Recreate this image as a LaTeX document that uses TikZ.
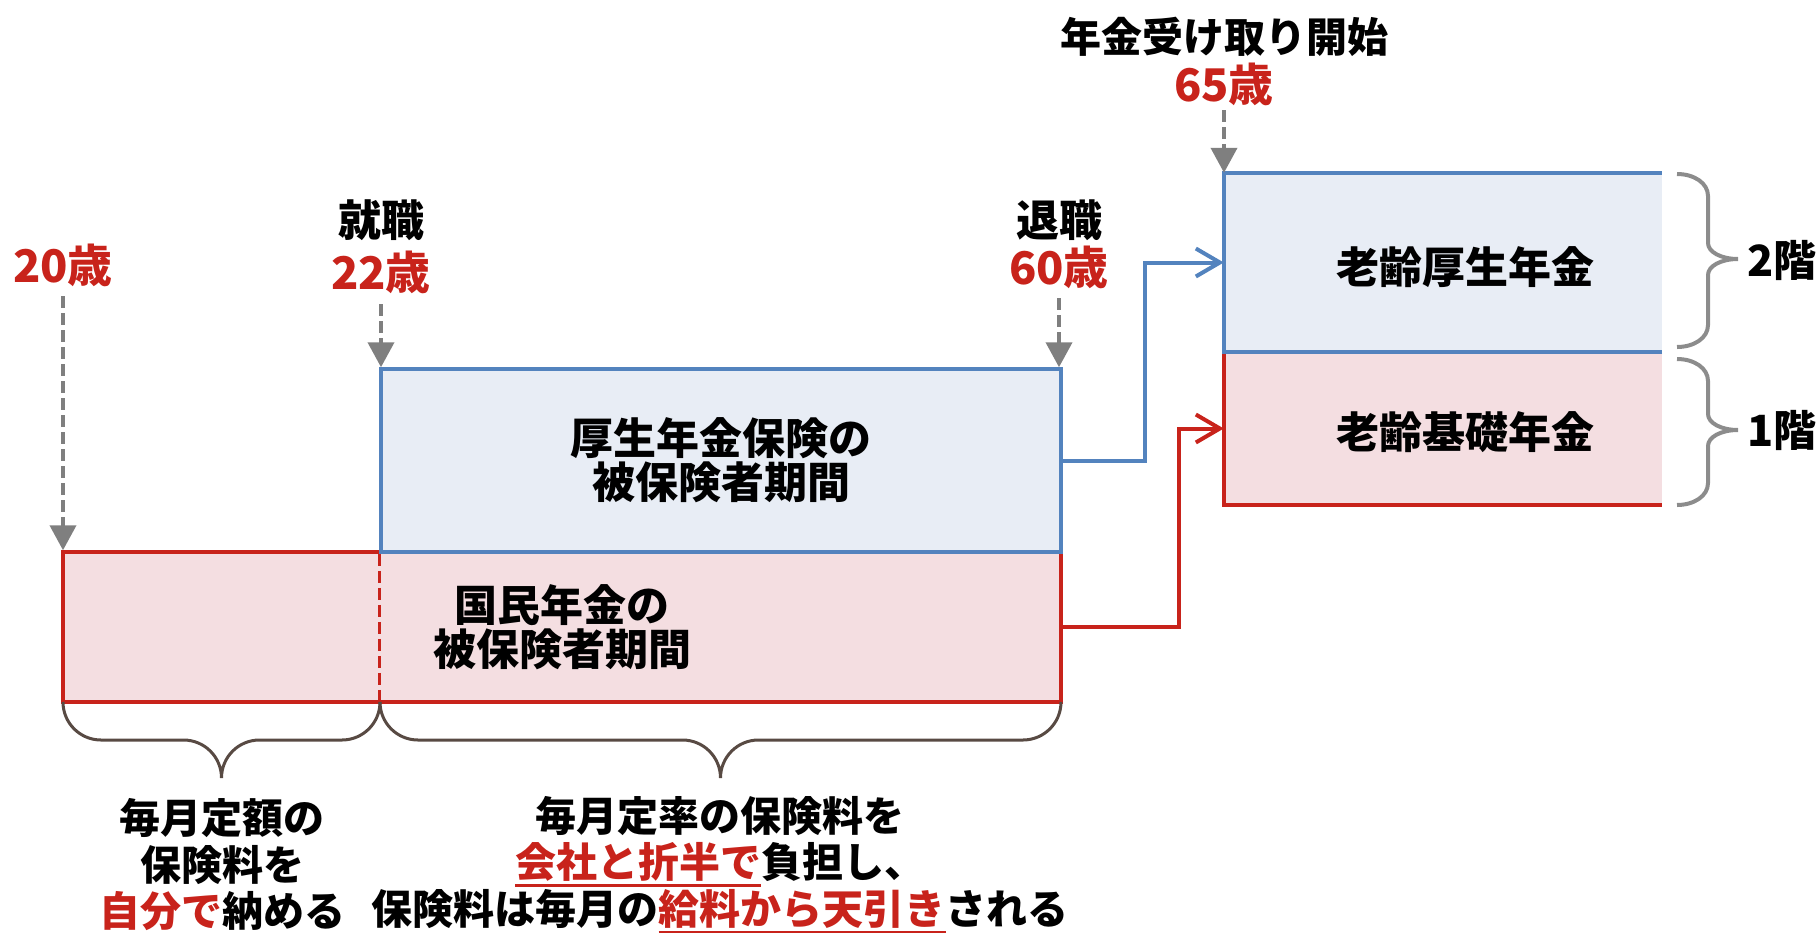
\documentclass[tikz,border=0pt]{standalone}
\usepackage{fontspec}
\setmainfont{Noto Sans CJK JP}
\usetikzlibrary{arrows.meta,calc}
\definecolor{accred}{HTML}{C8231B}
\definecolor{lineblue}{HTML}{5383BE}
\definecolor{fillblue}{HTML}{E8EDF5}
\definecolor{fillpink}{HTML}{F4DEE1}
\definecolor{arrgray}{HTML}{7F7F7F}
\definecolor{bracebrown}{HTML}{584A43}
\definecolor{bracegray}{HTML}{8C8C8C}
\newcommand\redul[1]{\setbox0\hbox{#1}\rlap{\color{accred}\rule[-9.5pt]{\wd0}{3pt}}\box0}
\begin{document}
\begin{tikzpicture}[x=1pt,y=-1pt,
  every node/.style={font=\bfseries\fontsize{43}{44}\selectfont, inner sep=0pt, align=center},
  age/.style={text=accred, font=\bfseries\fontsize{45}{50}\selectfont},
  bottomtxt/.style={font=\bfseries\fontsize{41}{46.5}\selectfont},
  agearrow/.style={draw=arrgray, line width=4pt, dash pattern=on 12pt off 5pt, -{Triangle[width=26pt,length=25pt]}},
  bluebox/.style={draw=lineblue, fill=fillblue, line width=3.5pt},
  pinkbox/.style={draw=accred, fill=fillpink, line width=3.5pt},
  bluelink/.style={draw=lineblue, line width=4pt, -{Straight Barb[length=24pt,width=28pt]}},
  redlink/.style={draw=accred, line width=4pt, -{Straight Barb[length=24pt,width=28pt]}},
  bracebot/.style={draw=bracebrown, line width=3pt},
  braceright/.style={draw=bracegray, line width=4pt}
]
\useasboundingbox (0,0) rectangle (1820,932);

% period boxes
\node[pinkbox, minimum width=998pt, minimum height=150pt] (kokumin) at (562,627) {国民年金の\\被保険者期間};
\node[bluebox, minimum width=680pt, minimum height=183pt] (kosei) at (721,460.5) {厚生年金保険の\\被保険者期間};
\draw[accred, line width=3pt, dash pattern=on 12pt off 5pt] (kosei.south west) -- (kosei.south west |- kokumin.south);

% pension boxes
\node[fill=fillpink, minimum width=438pt, minimum height=153pt] (r1) at (1443,428.5) {};
\draw[accred, line width=3.5pt] (r1.north west) -- (r1.south west) -- (r1.south east);
\node[fill=fillblue, minimum width=438pt, minimum height=179pt] (r2) at (1443,262.5) {};
\draw[lineblue, line width=3.5pt] (r2.south east) -- (r2.south west) -- (r2.north west) -- (r2.north east);
\node (t2) at (1465,267) {老齢厚生年金};
\node (t1) at (1465,432) {老齢基礎年金};

% age labels
\node[age] (n20) at (63,265) {20歳};
\node (job22) at (381,220) {就職};
\node[age] (n22) at (381,272) {22歳};
\node (ret60) at (1059,220) {退職};
\node[age] (n60) at (1059,267) {60歳};
\node[font=\bfseries\fontsize{41}{44}\selectfont] (start65) at (1224,37) {年金受け取り開始};
\node[age] (n65) at (1224,84) {65歳};

\draw[agearrow] ($(n20.center)+(0,31)$) -- (n20.center |- kokumin.north);
\draw[agearrow] ($(n22.center)+(0,32)$) -- (n22.center |- kosei.north);
\draw[agearrow] ($(n60.center)+(0,31)$) -- (n60.center |- kosei.north);
\draw[agearrow] ($(n65.center)+(0,26)$) -- (n65.center |- r2.north);

% links
\draw[bluelink] (kosei.east) -- ++(82,0) |- (r2.west);
\draw[redlink] (kokumin.east) -- ++(116,0) |- (r1.west);

% right braces
\draw[braceright] (1677,174) .. controls (1694,174) and (1708,183) .. (1708,196) -- (1708,243) .. controls (1708,252) and (1721,259) .. (1738,259) .. controls (1721,259) and (1708,266) .. (1708,275) -- (1708,325) .. controls (1708,338) and (1694,347) .. (1677,347);
\draw[braceright] (1677,359) .. controls (1694,359) and (1708,368) .. (1708,381) -- (1708,414) .. controls (1708,423) and (1721,430) .. (1738,430) .. controls (1721,430) and (1708,437) .. (1708,446) -- (1708,483) .. controls (1708,496) and (1694,505) .. (1677,505);
\node (f2) at (1782,260) {2階};
\node (f1) at (1782,430) {1階};

% bottom braces
\draw[bracebot] (63,702) .. controls (63,723) and (80,740) .. (101,740) -- (183.5,740) .. controls (204.5,740) and (221.5,757) .. (221.5,778) .. controls (221.5,757) and (238.5,740) .. (259.5,740) -- (342,740) .. controls (363,740) and (380,723) .. (380,702);
\draw[bracebot] (380,702) .. controls (380,723) and (397,740) .. (418,740) -- (682.5,740) .. controls (703.5,740) and (720.5,757) .. (720.5,778) .. controls (720.5,757) and (737.5,740) .. (758.5,740) -- (1023,740) .. controls (1044,740) and (1061,723) .. (1061,702);

\node[bottomtxt] (lefttxt) at (222,865) {毎月定額の\\保険料を\\\textcolor{accred}{自分で}納める};
\node[bottomtxt] (righttxt) at (720,865) {毎月定率の保険料を\\\redul{\textcolor{accred}{会社と折半で}}負担し、\\保険料は毎月の\redul{\textcolor{accred}{給料から天引き}}される};
\end{tikzpicture}
\end{document}
